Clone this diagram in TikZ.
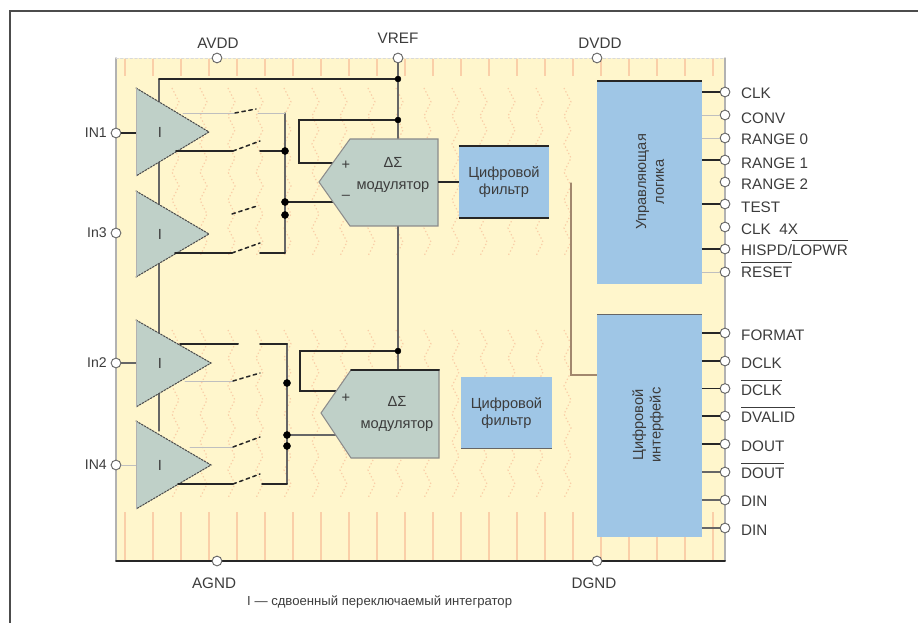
\documentclass[tikz,border=0pt]{standalone}
\usepackage{fontspec}
\setmainfont{Liberation Sans}
\usetikzlibrary{arrows,calc}
\usepackage{tkz-euclide}
\definecolor{PanelClr}{HTML}{FFF6CC}
\definecolor{StripeClr}{HTML}{FACFA8}
\definecolor{AmpClr}{HTML}{BFD0C8}
\definecolor{BlockClr}{HTML}{9FC6E6}
\definecolor{InkClr}{HTML}{3C3C3C}
\newcommand{\barlabel}[1]{\leavevmode\vbox{\hrule height .7pt \kern 4pt \hbox{#1}}}
\tikzset{
  pinnode/.style={circle,draw=black!60,fill=white,line width=.8pt,inner sep=0pt,minimum size=8.3pt},
  pinlabel/.style={anchor=west,inner sep=0pt,text=InkClr,font=\fontsize{13}{15}\selectfont},
  pinleft/.style={anchor=east,inner sep=0pt,text=InkClr,font=\fontsize{12}{14}\selectfont},
  pintop/.style={inner sep=0pt,text=InkClr,font=\fontsize{13}{15}\selectfont},
  bluebox/.style={fill=BlockClr,inner sep=0pt,align=center,text=InkClr,font=\fontsize{12.5}{15}\selectfont},
  modtext/.style={inner sep=0pt,align=center,text=InkClr,font=\fontsize{12.5}{18}\selectfont},
  wirebold/.style={line width=1.7pt,color=black!85},
  wiremid/.style={line width=.9pt,color=black!60},
  wirefaint/.style={line width=.7pt,color=black!25},
  switchdash/.style={line width=1.3pt,color=black!85,dash pattern=on 3pt off 3pt},
  ampedge/.style={line width=.9pt,color=black!70,dash pattern=on 1.5pt off 1.2pt}
}

\begin{document}
\begin{tikzpicture}[x=.3mm,y=-.3mm]
\useasboundingbox (0,0) rectangle (918,623);

\tkzDefPoints{10/623/F1,10/11/F2,918/11/F3}
\tkzDefPoints{116/58/P1,725/58/P2,725/561/P3,116/561/P4}

% panel
\fill[PanelClr] (P1) rectangle (P3);
\foreach \x in {125,153,181,209,237,265,293,321,349,377,405,433,461,489,517,545,573,601,629,657,685,713}{
  \draw[StripeClr,line width=.9pt] (\x,59) -- (\x,76);
  \draw[StripeClr,line width=.9pt] (\x,512) -- (\x,560);
}
\foreach \x in {172,200,228,256,284,312,340,368,396,424,452,480,508,536,564}{
  \draw[StripeClr,line width=1.1pt,dotted] (\x,88) -- ++(7,14) -- ++(-7,14) -- ++(7,14) -- ++(-7,14)
    -- ++(7,14) -- ++(-7,14) -- ++(7,14) -- ++(-7,14) -- ++(7,14) -- ++(-7,14) -- ++(7,14) -- ++(-7,14);
  \draw[StripeClr,line width=1.1pt,dotted] (\x,330) -- ++(7,14) -- ++(-7,14) -- ++(7,14) -- ++(-7,14)
    -- ++(7,14) -- ++(-7,14) -- ++(7,14) -- ++(-7,14) -- ++(7,14) -- ++(-7,14) -- ++(7,14) -- ++(-7,14);
}
\tkzDrawSegments[line width=1.2pt,color=black!30](P1,P4 P2,P3)
\tkzDrawSegments[line width=.8pt,color=black!15,dash pattern=on 2pt off 2pt](P1,P2)
\tkzDrawSegments[line width=1.7pt,color=black!85](P4,P3)
\tkzDrawPolySeg[line width=1.2pt,color=black!70](F1,F2,F3)

\tkzDefPoints{159/79/R1,398/79/R2,159/431/R3,398/58/V1,398/370/V2}
\tkzDefPoints{398/120/L1,299/120/L2,299/163/L3,333/163/L4,285/202/N1,333/202/N2}
\tkzDefPoints{398/351/L5,300/351/L6,300/391/L7,337/391/L8,287/435/N3,337/435/N4}
\tkzDefPoints{571/183/B1,571/375/B2,597/375/B3}

% supply rails
\tkzDrawSegments[wiremid](R1,R3 V1,V2)
\tkzDrawSegments[wirebold](R1,R2)
\tkzDrawPolySeg[wirebold](L1,L2,L3,L4)
\tkzDrawPolySeg[wirebold](L5,L6,L7,L8)
\tkzDrawSegments[wirebold](N1,N2)
\tkzDrawSegments[wiremid](N3,N4)
\tkzDrawPolySeg[line width=1.1pt,color=black!35!StripeClr](B1,B2,B3)

% integrators
\tkzDefPoints{136/88/A1,136/176/A2,209/132/A3}
\tkzDefPoints{136/191/A4,136/277/A5,209/234/A6}
\tkzDefPoints{136/320/A7,136/407/A8,211/363/A9}
\tkzDefPoints{136/421/A10,136/509/A11,211/465/A12}

\tkzFillPolygon[color=AmpClr](A1,A2,A3)
\tkzFillPolygon[color=AmpClr](A4,A5,A6)
\tkzFillPolygon[color=AmpClr](A7,A8,A9)
\tkzFillPolygon[color=AmpClr](A10,A11,A12)
\tkzDrawPolySeg[ampedge](A1,A3,A2)
\tkzDrawPolySeg[ampedge](A4,A6,A5)
\tkzDrawPolySeg[ampedge](A7,A9,A8)
\tkzDrawPolySeg[ampedge](A10,A12,A11)
\tkzDrawSegments[line width=.6pt,color=black!30](A1,A2 A4,A5 A7,A8 A10,A11)

\node[modtext] (I1) at (160,132) {I};
\node[modtext] (I2) at (160,234) {I};
\node[modtext] (I3) at (160,363) {I};
\node[modtext] (I4) at (160,465) {I};

% switches
\tkzDefPoints{285/113/S1,285/253/S2,287/344/S3,287/484/S4}
\tkzDefPoints{183/113/T1,235/113/T2,256/109/T3,258/113/T4}
\tkzDefPoints{176/151/T5,233/151/T6,260/141/T7,260/151/T8,285/151/T9}
\tkzDefPoints{232/214/T10,257/206/T11}
\tkzDefPoints{175/253/T12,232/253/T13,260/243/T14,260/253/T15}
\tkzDefPoints{180/344/U1,238/344/U2,260/344/U3}
\tkzDefPoints{185/381/U4,233/381/U5,260/373/U6}
\tkzDefPoints{190/447/U7,233/447/U8,260/437/U9}
\tkzDefPoints{178/484/U10,233/484/U11,260/474/U12,262/484/U13}
\tkzDefPoints{287/383/D5,287/435/D6,287/446/D7,285/215/D3}

\tkzDrawSegments[wiremid](S1,S2 S3,S4)
\tkzDrawSegments[wirefaint](T1,T2 T4,S1 U4,U5 U7,U8)
\tkzDrawSegments[wirebold](T5,T6 T8,T9 T12,T13 T15,S2 U1,U2 U3,S3 U10,U11 U13,S4)
\tkzDrawSegments[switchdash](T2,T3 T6,T7 T10,T11 T13,T14 U5,U6 U8,U9 U11,U12)

\tkzDrawPoints[fill=black,color=black,size=6](T9,N1,D3,D5,D6,D7)
\tkzDrawPoints[fill=black,color=black,size=5](R2,L1,L5)

% modulators
\tkzDefPoints{319/182/M1,350/139/M2,438/139/M3,438/226/M4,350/226/M5}
\tkzDefPoints{321/413/M6,351/370/M7,439/370/M8,439/458/M9,351/458/M10}
\tkzFillPolygon[color=AmpClr](M1,M2,M3,M4,M5)
\tkzFillPolygon[color=AmpClr](M6,M7,M8,M9,M10)
\draw[line width=.9pt,color=black!45] (M1) -- (M2) -- (M3) -- (M4) -- (M5) -- cycle;
\draw[line width=.9pt,color=black!45] (M6) -- (M7) -- (M8) -- (M9) -- (M10) -- cycle;
\tkzDrawSegments[wirebold](M7,M8)

\node[modtext] (modA) at (393,175) {ΔΣ\\модулятор};
\node[modtext] (modB) at (397,414) {ΔΣ\\модулятор};
\node[modtext] (plusA) at (346,165) {+};
\node[modtext] (minusA) at (346,197) {--};
\node[modtext] (plusB) at (346,398) {+};

% filters
\node[bluebox,minimum width=76.5pt,minimum height=61pt] (filterA) at (504,182) {Цифровой\\фильтр};
\node[bluebox,minimum width=77pt,minimum height=61pt] (filterB) at (506.5,413) {Цифровой\\фильтр};
\draw[wirebold] (filterA.north west) -- (filterA.north east);
\draw[wirebold] (filterA.south west) -- (filterA.south east);
\draw[wiremid] (filterB.south west) -- (filterB.south east);
\draw[wirebold] (filterA.west) -- (M3 |- filterA.west);

% control and interface
\node[bluebox,minimum width=89pt,minimum height=172.5pt] (ctrl) at (649.5,182.5) {};
\node[bluebox,minimum width=89pt,minimum height=189.5pt] (iface) at (649.5,425.5) {};
\node[bluebox,rotate=90] (ctrlT) at (650,182) {Управляющая\\логика};
\node[bluebox,rotate=90] (ifaceT) at (648,425) {Цифровой\\интерфейс};
\draw[wirebold] (ctrl.north west) -- (ctrl.north east);
\draw[wiremid] (iface.north west) -- (iface.north east);

% pins
\node[pinnode] (AVDD) at (217,58) {};
\node[pinnode] (VREF) at (398,58) {};
\node[pinnode] (DVDD) at (597,58) {};
\node[pinnode] (AGND) at (217,561) {};
\node[pinnode] (DGND) at (597,561) {};
\node[pintop] (tAVDD) at (218,43) {AVDD};
\node[pintop] (tVREF) at (398,38) {VREF};
\node[pintop] (tDVDD) at (600,43) {DVDD};
\node[pintop] (tAGND) at (214,583) {AGND};
\node[pintop] (tDGND) at (594,583) {DGND};

\node[pinnode] (IN1) at (116,133) {};
\node[pinnode] (IN3) at (116,233) {};
\node[pinnode] (IN2) at (116,363) {};
\node[pinnode] (IN4) at (116,465) {};
\draw[wirebold] (IN1) -- (A1 |- IN1);
\draw[wiremid] (IN2) -- (A1 |- IN2);
\draw[wirefaint] (IN4) -- (A1 |- IN4);
\node[pinleft] (tIN1) at (107,133) {IN1};
\node[pinleft] (tIN3) at (107,233) {In3};
\node[pinleft] (tIN2) at (107,363) {In2};
\node[pinleft] (tIN4) at (107,465) {IN4};

\node[pinnode] (CLK) at (725,92) {};
\node[pinnode] (CONV) at (725,115) {};
\node[pinnode] (RANGEa) at (725,138) {};
\node[pinnode] (RANGEb) at (725,160) {};
\node[pinnode] (RANGEc) at (725,182) {};
\node[pinnode] (TEST) at (725,204) {};
\node[pinnode] (CLKx) at (725,227) {};
\node[pinnode] (HISPD) at (725,249) {};
\node[pinnode] (RESET) at (725,272) {};
\draw[wirebold] (ctrl.east |- CLK) -- (CLK);
\draw[wirefaint] (ctrl.east |- CONV) -- (CONV);
\draw[wirefaint] (ctrl.east |- RANGEa) -- (RANGEa);
\draw[wirebold] (ctrl.east |- RANGEb) -- (RANGEb);
\draw[wirebold] (ctrl.east |- TEST) -- (TEST);
\draw[wirebold] (ctrl.east |- HISPD) -- (HISPD);
\draw[wirefaint] (ctrl.east |- RESET) -- (RESET);

\node[pinnode] (FORMAT) at (725,333) {};
\node[pinnode] (DCLK) at (725,361) {};
\node[pinnode] (DCLKn) at (725,388.5) {};
\node[pinnode] (DVALID) at (725,416) {};
\node[pinnode] (DOUT) at (725,444) {};
\node[pinnode] (DOUTn) at (725,472) {};
\node[pinnode] (DINa) at (725,500) {};
\node[pinnode] (DINb) at (725,528) {};
\draw[wirebold] (iface.east |- FORMAT) -- (FORMAT);
\draw[wirebold] (iface.east |- DCLK) -- (DCLK);
\draw[wirebold] (iface.east |- DCLKn) -- (DCLKn);
\draw[wirebold] (iface.east |- DVALID) -- (DVALID);
\draw[wirebold] (iface.east |- DOUT) -- (DOUT);
\draw[wiremid] (iface.east |- DOUTn) -- (DOUTn);
\draw[wiremid] (iface.east |- DINa) -- (DINa);
\draw[wiremid] (iface.east |- DINb) -- (DINb);

\node[pinlabel] (tCLK) at (741,93) {CLK};
\node[pinlabel] (tCONV) at (741,118) {CONV};
\node[pinlabel] (tRANGEa) at (741,139) {RANGE 0};
\node[pinlabel] (tRANGEb) at (741,163) {RANGE 1};
\node[pinlabel] (tRANGEc) at (741,184) {RANGE 2};
\node[pinlabel] (tTEST) at (741,207) {TEST};
\node[pinlabel] (tCLKx) at (741,229) {CLK\ \ 4X};
\node[pinlabel] (tHISPD) at (741,248) {HISPD/\barlabel{LOPWR}};
\node[pinlabel] (tRESET) at (741,270) {\barlabel{RESET}};
\node[pinlabel] (tFORMAT) at (741,335) {FORMAT};
\node[pinlabel] (tDCLK) at (741,363) {DCLK};
\node[pinlabel] (tDCLKn) at (741,388) {\barlabel{DCLK}};
\node[pinlabel] (tDVALID) at (741,415) {\barlabel{DVALID}};
\node[pinlabel] (tDOUT) at (741,446) {DOUT};
\node[pinlabel] (tDOUTn) at (741,471) {\barlabel{DOUT}};
\node[pinlabel] (tDINa) at (741,501) {DIN};
\node[pinlabel] (tDINb) at (741,530) {DIN};

\node[pinlabel,font=\fontsize{11.2}{13}\selectfont] (caption) at (247,602) {I --- сдвоенный переключаемый интегратор};

\end{tikzpicture}
\end{document}
